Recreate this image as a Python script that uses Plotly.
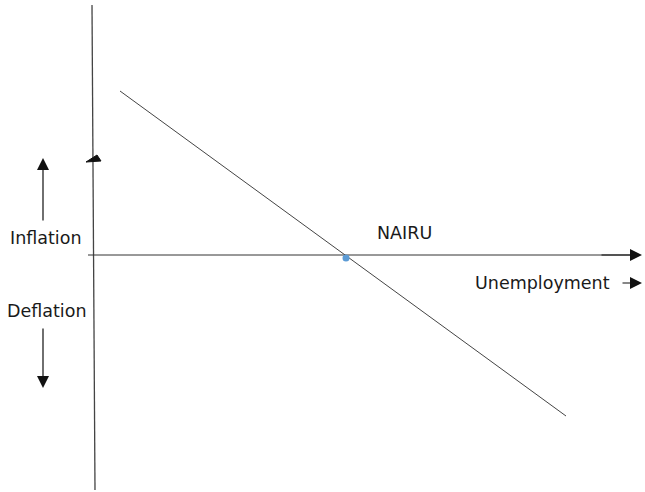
import plotly.graph_objects as go

W, H = 645, 492

# Diagram geometry (x to the right, y measured upward from the bottom of the canvas)
inflation_axis_x = [92, 95]
inflation_axis_y = [487, 2]
unemployment_axis_x = [88, 634]
unemployment_axis_y = [237, 237]
phillips_x = [120, 566]
phillips_y = [401, 76]
nairu_x = [346]
nairu_y = [234]
marker_tri_x = [86, 101, 97, 86]
marker_tri_y = [330, 331, 337, 330]

labels = ["Inflation", "Deflation", "NAIRU", "Unemployment"]
label_x = [46, 47, 404, 542]
label_y = [254, 181, 259, 209]

# arrows: (head_x, head_y, tail_x, tail_y)
arrows = [
    (43, 334, 43, 270),      # up arrow (inflation)
    (43, 104, 43, 165),      # down arrow (deflation)
    (642, 237, 600, 237),    # unemployment axis head
    (642, 209, 621, 209),    # small arrow after "Unemployment"
]

fig = go.Figure()
fig.add_trace(go.Scatter(x=inflation_axis_x, y=inflation_axis_y, mode="lines",
                         line=dict(color="#444444", width=1.3), hoverinfo="skip"))
fig.add_trace(go.Scatter(x=unemployment_axis_x, y=unemployment_axis_y, mode="lines",
                         line=dict(color="#333333", width=1), hoverinfo="skip"))
fig.add_trace(go.Scatter(x=phillips_x, y=phillips_y, mode="lines",
                         line=dict(color="#444444", width=1), hoverinfo="skip"))
fig.add_trace(go.Scatter(x=marker_tri_x, y=marker_tri_y, mode="lines", fill="toself",
                         fillcolor="#111111", line=dict(color="#111111", width=1), hoverinfo="skip"))
fig.add_trace(go.Scatter(x=nairu_x, y=nairu_y, mode="markers",
                         marker=dict(color="#5b9bd5", size=7), hoverinfo="skip"))

for t, x, y in zip(labels, label_x, label_y):
    fig.add_annotation(x=x, y=y, text=t, showarrow=False, xanchor="center", yanchor="middle",
                       font=dict(family="DejaVu Sans", size=17.5, color="#1a1a1a"))

for hx, hy, tx, ty in arrows:
    fig.add_annotation(x=hx, y=hy, ax=tx, ay=ty, xref="x", yref="y", axref="x", ayref="y",
                       text="", showarrow=True, arrowhead=2, arrowsize=2, arrowwidth=1.2,
                       arrowcolor="#111111")

fig.update_layout(
    width=W, height=H, margin=dict(l=0, r=0, t=0, b=0),
    paper_bgcolor="white", plot_bgcolor="white", showlegend=False,
    xaxis=dict(range=[0, W], visible=False, fixedrange=True),
    yaxis=dict(range=[0, H], visible=False, fixedrange=True),
)
fig.write_html("out.html", config={"displayModeBar": False},
               post_script="document.body.style.margin='0';document.body.style.padding='0';")
